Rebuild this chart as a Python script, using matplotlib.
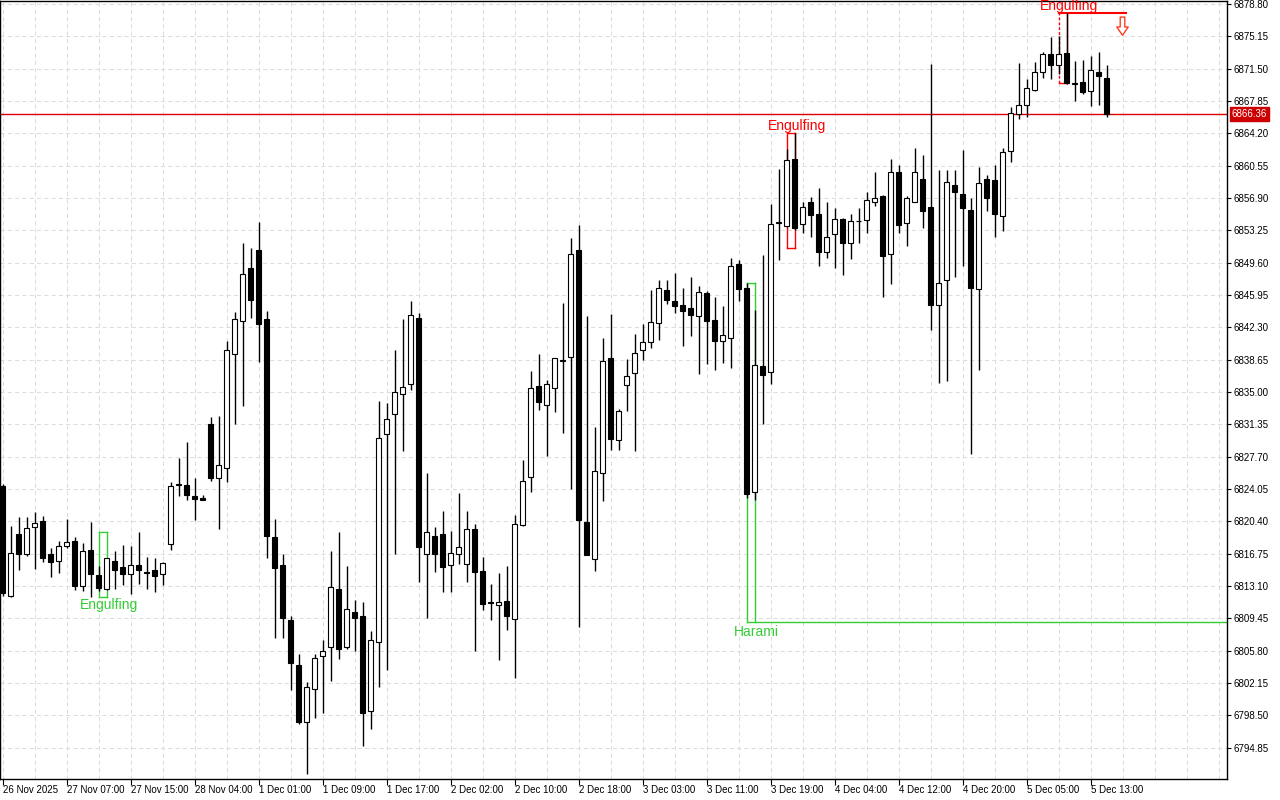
import matplotlib
matplotlib.use('Agg')
import matplotlib.pyplot as plt
from matplotlib.path import Path
import numpy as np

# hourly OHLC, one entry per bar (bar 0 = 26 Nov 2025)
opens = [6824.4, 6812.0, 6819.0, 6816.7, 6819.8, 6820.4, 6816.7, 6815.9, 6817.6, 6818.2,
         6813.1, 6817.2, 6814.3, 6812.7, 6815.9, 6815.2, 6814.4, 6815.5, 6814.65, 6814.9,
         6814.5, 6817.8, 6824.5, 6824.5, 6823.3, 6823.05, 6831.35, 6825.25, 6826.45, 6839.25,
         6843.0, 6848.95, 6851.0, 6843.2, 6818.6, 6815.45, 6809.2, 6804.2, 6797.7, 6801.45,
         6805.15, 6806.15, 6812.7, 6806.2, 6810.2, 6809.7, 6798.95, 6806.75, 6830.2, 6832.5,
         6834.75, 6835.85, 6843.4, 6816.65, 6818.75, 6818.95, 6815.45, 6816.65, 6815.55, 6819.5,
         6814.75, 6811.2, 6811.0, 6811.4, 6809.35, 6819.95, 6825.35, 6835.65, 6833.5, 6835.5,
         6838.55, 6838.9, 6851.0, 6820.3, 6816.1, 6825.8, 6838.8, 6829.55, 6835.75, 6837.1,
         6839.7, 6840.6, 6842.75, 6846.5, 6845.25, 6844.8, 6844.45, 6843.55, 6846.15, 6843.1,
         6840.7, 6841.05, 6849.4, 6846.7, 6823.65, 6837.9, 6837.2, 6854.1, 6853.7, 6861.25,
         6853.95, 6856.4, 6855.05, 6850.75, 6852.8, 6854.5, 6851.8, 6854.3, 6854.4, 6856.5,
         6857.1, 6850.55, 6859.8, 6854.05, 6856.5, 6859.05, 6855.9, 6844.8, 6847.6, 6858.35,
         6857.3, 6855.5, 6846.6, 6859.0, 6858.9, 6854.85, 6862.25, 6866.35, 6867.45, 6869.05,
         6871.1, 6873.1, 6871.9, 6873.25, 6869.85, 6870.05, 6868.95, 6871.1, 6870.5]
highs = [6824.6, 6819.9, 6820.9, 6820.9, 6821.4, 6821.0, 6817.4, 6818.2, 6820.7, 6818.6,
         6818.0, 6820.3, 6815.4, 6816.2, 6817.1, 6817.7, 6817.6, 6819.2, 6816.4, 6816.3,
         6815.8, 6824.8, 6827.5, 6829.3, 6825.25, 6823.4, 6832.2, 6832.25, 6840.75, 6844.0,
         6851.8, 6851.2, 6854.15, 6844.1, 6820.65, 6816.7, 6809.7, 6805.4, 6802.2, 6805.4,
         6807.0, 6817.1, 6819.15, 6815.3, 6811.5, 6811.25, 6808.0, 6834.0, 6833.7, 6839.75,
         6843.2, 6845.3, 6843.9, 6825.9, 6819.75, 6821.55, 6819.3, 6823.6, 6821.55, 6820.1,
         6816.35, 6813.3, 6814.55, 6815.3, 6821.1, 6827.3, 6837.35, 6839.25, 6836.3, 6838.8,
         6845.05, 6852.35, 6853.85, 6843.55, 6831.0, 6841.05, 6843.75, 6833.05, 6838.7, 6841.6,
         6842.65, 6846.5, 6847.6, 6847.6, 6848.4, 6846.7, 6847.95, 6846.95, 6846.35, 6845.7,
         6844.65, 6850.1, 6849.9, 6847.35, 6844.25, 6850.45, 6856.2, 6860.15, 6862.4, 6864.2,
         6856.4, 6857.0, 6858.0, 6856.5, 6855.75, 6854.6, 6855.05, 6855.75, 6857.55, 6859.8,
         6857.2, 6861.3, 6860.6, 6857.1, 6862.5, 6861.7, 6872.0, 6860.05, 6860.05, 6860.05,
         6862.3, 6856.85, 6860.35, 6859.55, 6860.6, 6862.5, 6867.15, 6872.1, 6870.3, 6872.2,
         6873.35, 6875.1, 6875.15, 6877.75, 6872.35, 6872.45, 6872.9, 6873.35, 6871.9]
lows = [6812.0, 6811.9, 6814.9, 6816.5, 6815.0, 6815.8, 6814.1, 6814.6, 6817.4, 6812.6,
        6812.5, 6811.9, 6812.5, 6812.6, 6812.8, 6813.2, 6812.2, 6813.3, 6812.7, 6812.4,
        6813.2, 6817.2, 6823.2, 6822.8, 6820.5, 6822.8, 6825.0, 6819.55, 6824.8, 6831.4,
        6833.45, 6843.4, 6838.4, 6816.2, 6807.2, 6807.2, 6801.4, 6797.5, 6791.9, 6798.15,
        6798.7, 6802.4, 6804.9, 6806.0, 6805.7, 6795.05, 6797.0, 6801.7, 6803.65, 6816.65,
        6828.35, 6835.2, 6813.5, 6809.45, 6814.65, 6812.45, 6812.45, 6815.55, 6813.5, 6805.8,
        6810.35, 6809.3, 6804.75, 6808.1, 6802.75, 6819.85, 6823.75, 6833.0, 6827.8, 6832.75,
        6830.35, 6824.1, 6808.5, 6816.55, 6814.8, 6822.7, 6828.5, 6828.5, 6832.9, 6828.35,
        6838.65, 6839.95, 6840.9, 6844.9, 6843.9, 6840.2, 6841.35, 6837.0, 6838.2, 6837.45,
        6838.25, 6837.65, 6845.25, 6823.0, 6822.8, 6831.4, 6835.95, 6849.95, 6853.6, 6853.3,
        6852.9, 6852.55, 6849.25, 6850.1, 6848.95, 6848.2, 6850.05, 6851.8, 6853.0, 6855.95,
        6845.75, 6847.2, 6853.0, 6851.5, 6856.45, 6853.55, 6842.05, 6836.05, 6836.25, 6848.0,
        6849.25, 6828.05, 6837.5, 6855.45, 6852.55, 6853.15, 6861.0, 6865.8, 6866.1, 6869.0,
        6870.4, 6870.3, 6870.85, 6869.8, 6867.8, 6868.6, 6867.25, 6867.35, 6866.1]
closes = [6812.3, 6816.8, 6816.7, 6819.6, 6820.2, 6816.3, 6815.8, 6817.6, 6818.1, 6813.1,
          6817.1, 6814.4, 6812.9, 6816.2, 6814.9, 6814.4, 6815.5, 6814.9, 6814.6, 6814.25,
          6815.7, 6824.4, 6824.6, 6823.4, 6822.95, 6822.85, 6825.3, 6826.7, 6839.7, 6843.2,
          6848.3, 6845.4, 6842.7, 6818.7, 6815.15, 6809.45, 6804.4, 6797.7, 6801.65, 6804.95,
          6805.7, 6812.95, 6806.0, 6810.45, 6809.45, 6798.7, 6807.05, 6829.75, 6831.9, 6834.95,
          6835.6, 6843.65, 6817.45, 6819.15, 6816.65, 6815.25, 6816.8, 6817.55, 6819.5, 6814.7,
          6811.1, 6811.25, 6811.25, 6809.65, 6820.05, 6824.9, 6835.5, 6833.85, 6835.85, 6838.8,
          6838.6, 6850.55, 6820.6, 6816.55, 6826.05, 6838.55, 6829.7, 6832.8, 6836.75, 6839.35,
          6840.6, 6842.85, 6846.7, 6845.35, 6844.65, 6844.1, 6843.65, 6846.25, 6843.0, 6840.7,
          6841.4, 6849.2, 6846.6, 6823.45, 6838.0, 6836.95, 6853.95, 6854.15, 6861.15, 6853.5,
          6855.85, 6854.95, 6850.75, 6852.55, 6854.5, 6851.8, 6854.25, 6854.35, 6856.65, 6856.85,
          6850.3, 6859.8, 6853.9, 6856.85, 6859.8, 6855.45, 6844.85, 6847.25, 6858.65, 6857.55,
          6855.8, 6846.75, 6858.55, 6856.95, 6855.05, 6862.05, 6866.55, 6867.35, 6869.3, 6871.1,
          6873.1, 6871.9, 6873.1, 6869.85, 6869.8, 6868.85, 6871.3, 6870.65, 6866.36]

time_labels = ['26 Nov 2025', '27 Nov 07:00', '27 Nov 15:00', '28 Nov 04:00', '1 Dec 01:00',
               '1 Dec 09:00', '1 Dec 17:00', '2 Dec 02:00', '2 Dec 10:00', '2 Dec 18:00',
               '3 Dec 03:00', '3 Dec 11:00', '3 Dec 19:00', '4 Dec 04:00', '4 Dec 12:00',
               '4 Dec 20:00', '5 Dec 05:00', '5 Dec 13:00']
price_ticks = [6794.85, 6798.50, 6802.15, 6805.80, 6809.45, 6813.10, 6816.75, 6820.40,
               6824.05, 6827.70, 6831.35, 6835.00, 6838.65, 6842.30, 6845.95, 6849.60,
               6853.25, 6856.90, 6860.55, 6864.20, 6867.85, 6871.50, 6875.15, 6878.80]

# candlestick patterns found by the indicator
pat_first = [12, 93, 98, 132]
pat_last = [13, 94, 99, 133]
pat_top = [6819.15, 6847.35, 6864.2, 6877.75]
pat_bottom = [6811.85, 6809.05, 6851.3, 6869.9]
pat_name = ['Engulfing', 'Harami', 'Engulfing', 'Engulfing']
pat_bull = [True, True, False, False]

last_price = 6866.36
signal_bar = 140.4

GREEN = '#32cd32'
RED = '#ff0000'
FONT = 'Liberation Sans'

fig = plt.figure(figsize=(12.8, 8), dpi=100)
ax = fig.add_axes([0, 21.5 / 800, 1227 / 1280, 777.5 / 800])
ax.set_xlim(-0.3125, 153.06)
ax.set_ylim(6791.36, 6879.14)

# grid
for g in range(0, 154, 4):
    ax.axvline(g, color='#dddddd', lw=0.75, ls=(0, (4, 3)), zorder=0)
for p in price_ticks:
    ax.axhline(p, color='#dddddd', lw=0.75, ls=(0, (4, 3)), zorder=0)

# pattern boxes
for i in range(len(pat_name)):
    c = GREEN if pat_bull[i] else RED
    a, b, top, bot = pat_first[i], pat_last[i], pat_top[i], pat_bottom[i]
    left_ls = '-' if i < 3 else (0, (2, 1.5))
    ax.plot([a, a], [bot, top], color=c, lw=1, ls=left_ls, zorder=1)
    ax.plot([b, b], [bot, top], color=c, lw=1, zorder=1)
    top_end = signal_bar if i == 3 else b
    bot_end = 153.06 if pat_name[i] == 'Harami' else b
    ax.plot([a, top_end], [top, top], color=c, lw=1.5 if i == 3 else 1, zorder=1)
    ax.plot([a, bot_end], [bot, bot], color=c, lw=1, zorder=1)
    if pat_bull[i]:
        off = -7.5 if pat_name[i] == 'Harami' else -6
        ax.annotate(pat_name[i], xy=(b + 0.25, bot), xytext=(0, off),
                    textcoords='offset points', ha='center', va='center',
                    color=c, fontsize=10, family=FONT, annotation_clip=False)
    else:
        ax.annotate(pat_name[i], xy=(b + 0.25, top), xytext=(0, 5),
                    textcoords='offset points', ha='center', va='center',
                    color=c, fontsize=10, family=FONT, annotation_clip=False)

# sell signal arrow
arrow = Path([(-0.22, 1.0), (0.22, 1.0), (0.22, 0.05), (0.55, 0.05), (0.0, -0.75),
              (-0.55, 0.05), (-0.22, 0.05), (-0.22, 1.0)],
             [Path.MOVETO] + [Path.LINETO] * 6 + [Path.CLOSEPOLY])
ax.plot([signal_bar - 0.5], [pat_top[3] - 1.6], marker=arrow, markersize=15,
        markerfacecolor='white', markeredgecolor='#ff3c1e', markeredgewidth=1, zorder=5)

# current price line
ax.axhline(last_price, color='#e00000', lw=1, zorder=1.5)

# candles
x = np.arange(len(opens))
o = np.array(opens)
h = np.array(highs)
l = np.array(lows)
c = np.array(closes)
ax.vlines(x, l, h, color='black', lw=1, zorder=2)
face = ['white' if cc >= oo else 'black' for oo, cc in zip(o, c)]
ax.bar(x, np.abs(c - o), bottom=np.minimum(o, c), width=0.52, color=face,
       edgecolor='black', linewidth=0.8, zorder=3)

# axes styling
for s in ax.spines.values():
    s.set_color('black')
    s.set_linewidth(1)
ax.yaxis.tick_right()
ax.set_yticks(price_ticks)
ax.set_yticklabels([f'{p:.2f}' for p in price_ticks], family=FONT, fontsize=7)
ax.set_xticks(range(0, 8 * len(time_labels), 8))
ax.set_xticklabels(time_labels, family=FONT, fontsize=7, ha='left')
ax.tick_params(axis='y', direction='out', length=3, pad=2, colors='black')
ax.tick_params(axis='x', direction='out', length=4, pad=1, colors='black')

ax.annotate(f'{last_price:.2f}', xy=(1, last_price), xycoords=('axes fraction', 'data'),
            xytext=(3.5, 0), textcoords='offset points', ha='left', va='center',
            color='white', fontsize=7, family=FONT, annotation_clip=False,
            bbox=dict(boxstyle='square,pad=0.2', fc='#cc0000', ec='#cc0000'))

fig.savefig('out.png', dpi=100)
